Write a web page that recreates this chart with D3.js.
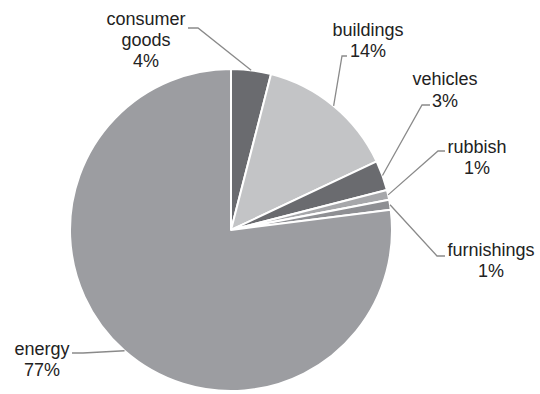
<!DOCTYPE html>
<html>
<head>
<meta charset="utf-8">
<script src="https://cdn.jsdelivr.net/npm/d3@7"></script>
<style>
  html, body { margin: 0; padding: 0; background: #fff; }
  svg { display: block; }
  text { font-family: "Liberation Sans", Arial, sans-serif; font-size: 18px; fill: #222; }
</style>
</head>
<body>
<svg id="chart" width="540" height="394"></svg>
<script>
// Sources of the footprint, clockwise from 12 o'clock
const categories = ["consumer goods", "buildings", "vehicles", "rubbish", "furnishings", "energy"];
const shares = [4, 14, 3, 1, 1, 77];
const labelLines = [["consumer", "goods", "4%"], ["buildings", "14%"], ["vehicles", "3%"],
                    ["rubbish", "1%"], ["furnishings", "1%"], ["energy", "77%"]];
const fills = ["#6a6b6f", "#c3c4c6", "#6a6b6f", "#a6a7aa", "#8e8f93", "#9c9da1"];

// Label placement: text centre x, first baseline, line step, and where the leader begins
const labelLayout = [
  { x: 146, y: 25, dy: 21, lead: [[188, 28], [198, 28]] },
  { x: 368, y: 36, dy: 21, lead: [[347, 56], [342, 56]] },
  { x: 445, y: 85, dy: 22, lead: [[430, 105], [422, 105]] },
  { x: 477, y: 153, dy: 21, lead: [[445, 151], [438, 151]] },
  { x: 491, y: 256, dy: 21, lead: [[445, 256], [437, 256]] },
  { x: 42, y: 355, dy: 21, lead: [[72, 353], [83, 353]] }
];

const cx = 231, cy = 230, radius = 161;
const svg = d3.select("#chart");

const pie = d3.pie().sort(null).value(d => d.value);
const arcs = pie(categories.map((c, i) => ({ name: c, value: shares[i], i })));
const arc = d3.arc().innerRadius(0).outerRadius(radius);

const g = svg.append("g").attr("transform", `translate(${cx},${cy})`);

g.selectAll("path.slice")
  .data(arcs)
  .join("path")
  .attr("class", "slice")
  .attr("d", arc)
  .attr("fill", d => fills[d.data.i])
  .attr("stroke", "#fff")
  .attr("stroke-width", 2)
  .attr("stroke-linejoin", "round");

// Leader lines from each label to the rim at the slice's mid-angle
const line = d3.line();
svg.selectAll("path.leader")
  .data(arcs)
  .join("path")
  .attr("class", "leader")
  .attr("d", d => {
    const a = (d.startAngle + d.endAngle) / 2;
    const rim = [cx + radius * Math.sin(a), cy - radius * Math.cos(a)];
    return line([...labelLayout[d.data.i].lead, rim]);
  })
  .attr("fill", "none")
  .attr("stroke", "#8a8a8a")
  .attr("stroke-width", 1.3);

// Category labels with percentages
const labels = svg.selectAll("text.label")
  .data(arcs)
  .join("text")
  .attr("class", "label")
  .attr("text-anchor", "middle");

labels.each(function(d) {
  const L = labelLayout[d.data.i];
  d3.select(this).selectAll("tspan")
    .data(labelLines[d.data.i])
    .join("tspan")
    .attr("x", L.x)
    .attr("y", (t, k) => L.y + k * L.dy)
    .text(t => t);
});
</script>
</body>
</html>
